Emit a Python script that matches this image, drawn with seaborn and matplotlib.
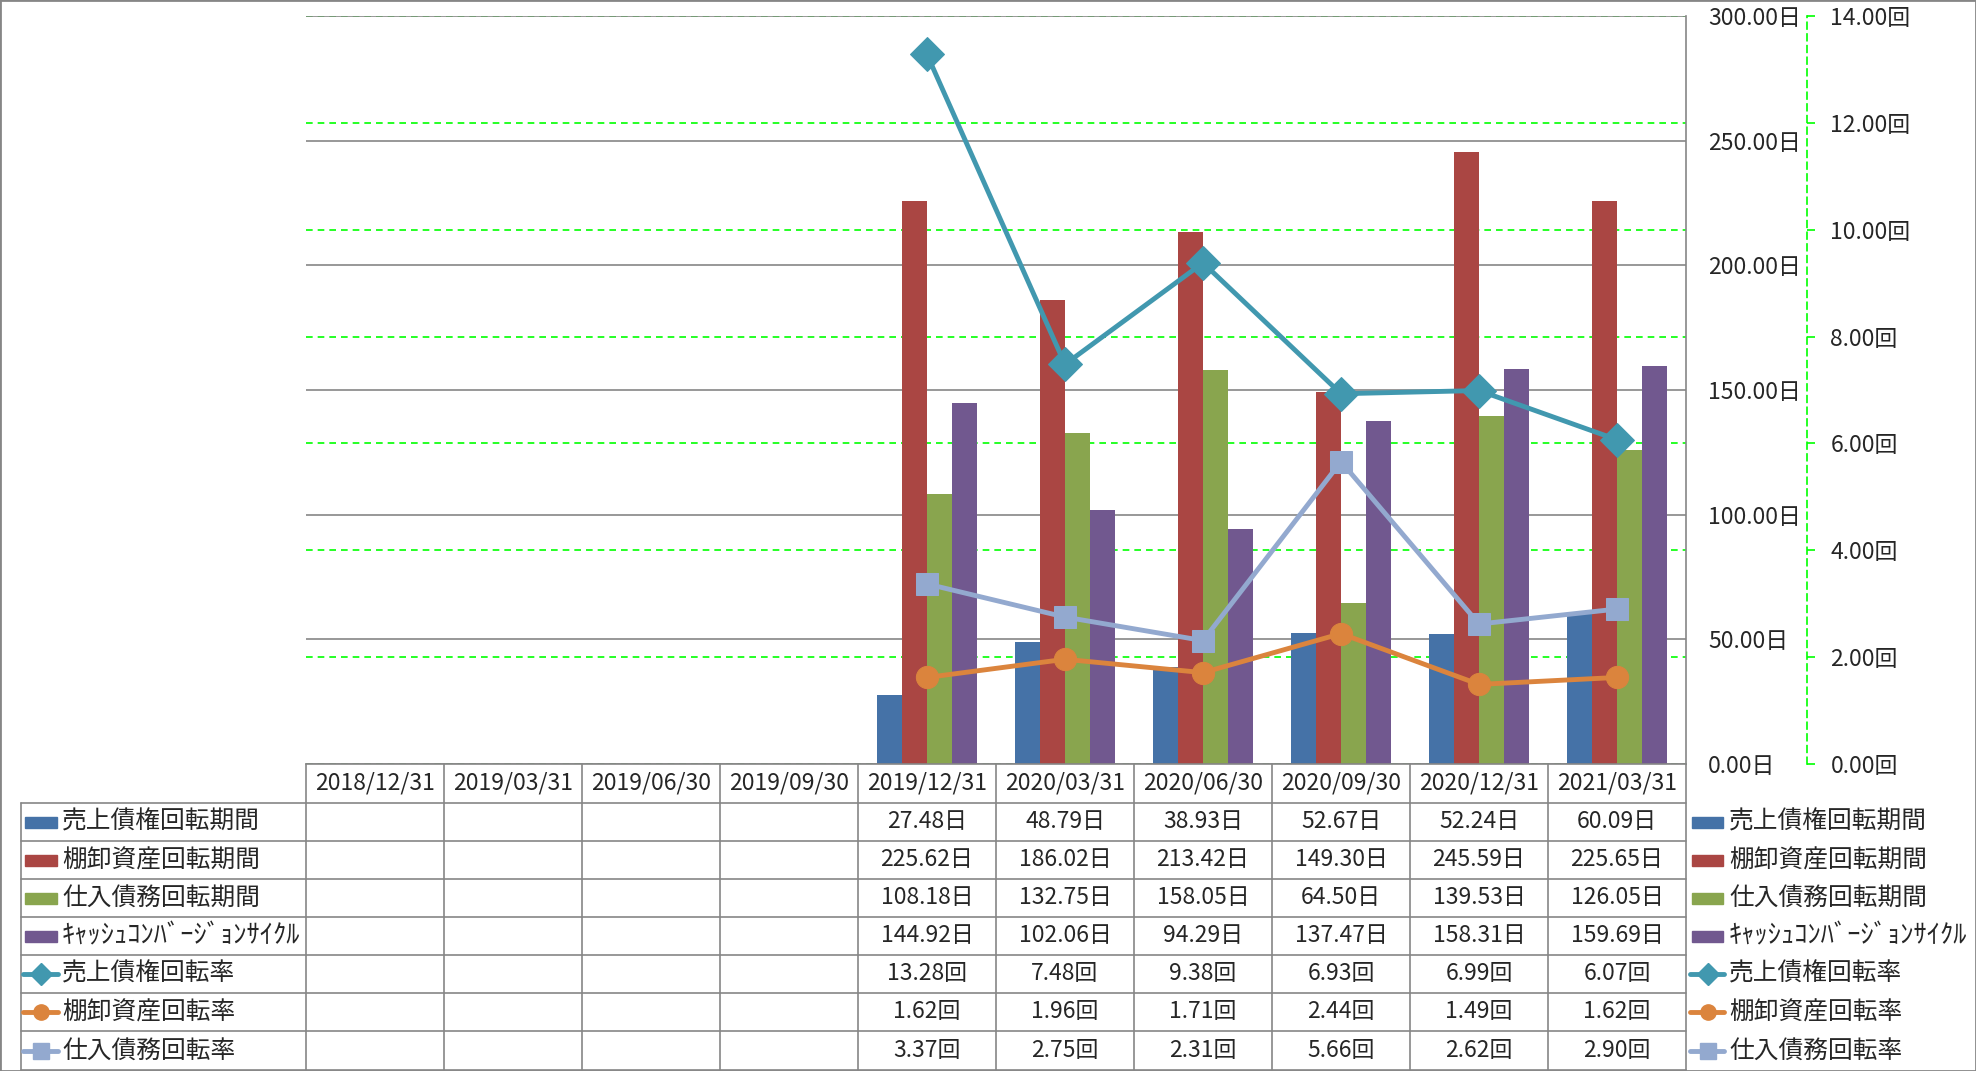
import numpy as np
import pandas as pd
import matplotlib.pyplot as plt
import seaborn as sns
from matplotlib.lines import Line2D
from matplotlib.patches import Rectangle
from matplotlib.transforms import blended_transform_factory

# data
dates = ['2018/12/31', '2019/03/31', '2019/06/30', '2019/09/30', '2019/12/31',
         '2020/03/31', '2020/06/30', '2020/09/30', '2020/12/31', '2021/03/31']
shown = dates[4:]

bar_names = ['売上債権回転期間', '棚卸資産回転期間', '仕入債務回転期間', 'ｷｬｯｼｭｺﾝﾊﾞｰｼﾞｮﾝｻｲｸﾙ']
line_names = ['売上債権回転率', '棚卸資産回転率', '仕入債務回転率']

receivable_days = [27.48, 48.79, 38.93, 52.67, 52.24, 60.09]
inventory_days = [225.62, 186.02, 213.42, 149.30, 245.59, 225.65]
payable_days = [108.18, 132.75, 158.05, 64.50, 139.53, 126.05]
ccc_days = [144.92, 102.06, 94.29, 137.47, 158.31, 159.69]

receivable_turn = [13.28, 7.48, 9.38, 6.93, 6.99, 6.07]
inventory_turn = [1.62, 1.96, 1.71, 2.44, 1.49, 1.62]
payable_turn = [3.37, 2.75, 2.31, 5.66, 2.62, 2.90]

bar_values = [receivable_days, inventory_days, payable_days, ccc_days]
line_values = [receivable_turn, inventory_turn, payable_turn]

bar_colors = ['#4572A7', '#AA4643', '#89A54E', '#71588F']
line_colors = ['#4198AF', '#DB843D', '#93A9CF']
line_markers = ['D', 'o', 's']

bar_df = pd.DataFrame({
    'date': shown * len(bar_names),
    'series': np.repeat(bar_names, len(shown)),
    'value': sum(bar_values, []),
})

sns.set_style('white')
plt.rcParams['font.family'] = ['Noto Sans CJK JP', 'DejaVu Sans']
FS = 16.5
GRAY = '#868686'
GREEN = '#00FF00'

W, H = 1976, 1071
fig = plt.figure(figsize=(W / 100, H / 100), dpi=100)


def fx(px):
    return px / W


def fy(py):
    return 1 - py / H


rect = [fx(306), fy(764), fx(1686) - fx(306), fy(16) - fy(764)]

# background axes only for the secondary (green) gridlines, behind the bars
ax_bg = fig.add_axes(rect)
ax_bg.set_xlim(-0.5, 9.5)
ax_bg.set_ylim(0, 14)
ax_bg.set_yticks(np.arange(0, 15, 2))
ax_bg.set_xticks([])
ax_bg.tick_params(left=False, labelleft=False)
ax_bg.grid(axis='y', color=GREEN, ls=(0, (4, 3)), lw=1.2)
for s in ax_bg.spines.values():
    s.set_visible(False)

ax = fig.add_axes(rect)
ax.patch.set_visible(False)
sns.barplot(data=bar_df, x='date', y='value', hue='series', order=dates,
            hue_order=bar_names, palette=bar_colors, width=0.725, saturation=1,
            errorbar=None, legend=False, linewidth=0, ax=ax)

# secondary axis with the turnover lines
ax2 = ax.twinx()
pos = [dates.index(d) for d in shown]
for vals, c, m, ms in zip(line_values, line_colors, line_markers, [17, 16, 16]):
    sns.lineplot(x=pos, y=vals, ax=ax2, color=c, marker=m, markersize=ms,
                 mec=c, mfc=c, lw=3.5)

ax.set_xlim(-0.5, 9.5)
ax.set_ylim(0, 300)
ax.set_yticks(np.arange(0, 301, 50))
ax.set_yticklabels([f'{v:.2f}日' for v in np.arange(0, 301, 50)])
ax.yaxis.tick_right()
ax.tick_params(axis='y', length=0, pad=16, labelsize=FS)
ax.tick_params(axis='x', length=0, labelbottom=False)
ax.set_xlabel('')
ax.set_ylabel('')
ax.grid(axis='y', color=GRAY, lw=1.2)
ax.set_axisbelow(True)
for k in ['left', 'top']:
    ax.spines[k].set_visible(False)
for k in ['right', 'bottom']:
    ax.spines[k].set_visible(True)
    ax.spines[k].set_color(GRAY)
    ax.spines[k].set_linewidth(1.2)

ax2.set_ylim(0, 14)
ax2.set_xlim(-0.5, 9.5)
ax2.set_yticks(np.arange(0, 15, 2))
ax2.set_yticklabels([f'{v:.2f}回' for v in np.arange(0, 15, 2)])
ax2.set_ylabel('')
ax2.spines['right'].set_position(('outward', 87))
ax2.spines['right'].set_color(GREEN)
ax2.spines['right'].set_linestyle((0, (4, 3)))
ax2.spines['right'].set_linewidth(1.2)
for k in ['left', 'top', 'bottom']:
    ax2.spines[k].set_visible(False)
ax2.tick_params(axis='y', color=GREEN, length=6, width=1.2, pad=11, labelsize=FS)

# data table under the plot
trans = blended_transform_factory(ax.transData, fig.transFigure)
row_edges = [764, 803, 841, 879, 917, 955, 993, 1031, 1070]
centers = [(a + b) / 2 for a, b in zip(row_edges[:-1], row_edges[1:])]

for i, d in enumerate(dates):
    ax.text(i, fy(centers[0]), d, transform=trans, ha='center', va='center', fontsize=FS)

rows = [(n, v, '日') for n, v in zip(bar_names, bar_values)] + \
       [(n, v, '回') for n, v in zip(line_names, line_values)]
for r, (name, vals, unit) in enumerate(rows):
    yc = fy(centers[r + 1])
    for j, v in zip(pos, vals):
        ax.text(j, yc, f'{v:.2f}{unit}', transform=trans, ha='center', va='center', fontsize=FS)

for y in row_edges[1:]:
    fig.add_artist(Line2D([fx(21), fx(1686)], [fy(y), fy(y)], color=GRAY, lw=1.2))
for k in range(len(dates) + 1):
    fig.add_artist(Line2D([k - 0.5, k - 0.5], [fy(764), fy(1070)], color=GRAY, lw=1.2,
                          transform=trans))
fig.add_artist(Line2D([fx(21), fx(21)], [fy(803), fy(1070)], color=GRAY, lw=1.2))


# legend keys, left (inside table) and right
def legend_key(x0, x1, r, kind, color, marker):
    yc = centers[r + 1]
    if kind == 'bar':
        fig.add_artist(Rectangle((fx(x0), fy(yc + 5.5)), fx(x1) - fx(x0), 11 / H,
                                 color=color, transform=fig.transFigure))
    else:
        fig.add_artist(Line2D([fx(x0 - 2), fx((x0 + x1) / 2), fx(x1 + 1)], [fy(yc)] * 3,
                              color=color, lw=3.5, marker=marker, markersize=11,
                              markevery=[1], mec=color, mfc=color))


keys = [(n, 'bar', c, None) for n, c in zip(bar_names, bar_colors)] + \
       [(n, 'line', c, m) for n, c, m in zip(line_names, line_colors, line_markers)]
for r, (name, kind, c, m) in enumerate(keys):
    size = 19 if name.startswith('ｷ') else 17.8
    legend_key(25, 57, r, kind, c, m)
    fig.text(fx(62), fy(centers[r + 1]), name, ha='left', va='center', fontsize=size)
    legend_key(1692, 1723, r, kind, c, m)
    fig.text(fx(1729), fy(centers[r + 1]), name, ha='left', va='center', fontsize=size)

fig.add_artist(Rectangle((0, 0), 1, 1, transform=fig.transFigure, fill=False,
                         ec=GRAY, lw=2))

fig.savefig('out.png', dpi=100)
